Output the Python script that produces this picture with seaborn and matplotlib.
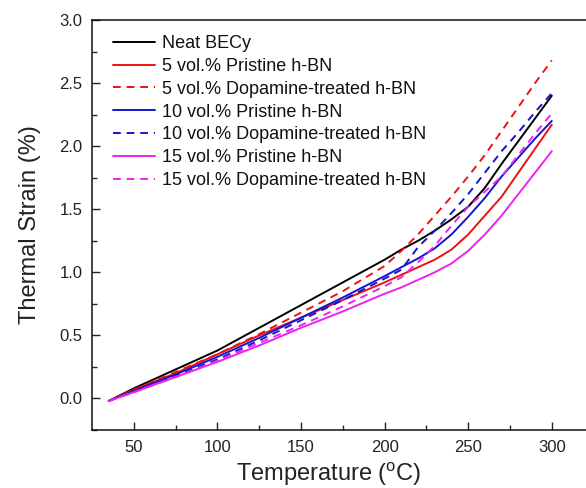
import numpy as np
import pandas as pd
import matplotlib
matplotlib.use("Agg")
import matplotlib.pyplot as plt
import seaborn as sns

temperature = [35, 50, 75, 100, 125, 150, 175, 200, 210, 220, 230, 240, 250, 260, 270, 280, 290, 300]

neat_becy   = [-0.02, 0.08, 0.23, 0.38, 0.56, 0.74, 0.92, 1.10, 1.18, 1.25, 1.33, 1.42, 1.52, 1.67, 1.86, 2.04, 2.22, 2.40]
pristine_5  = [-0.02, 0.07, 0.20, 0.35, 0.50, 0.64, 0.78, 0.92, 0.98, 1.04, 1.10, 1.18, 1.30, 1.45, 1.60, 1.79, 1.98, 2.17]
dopamine_5  = [-0.02, 0.07, 0.21, 0.35, 0.51, 0.68, 0.85, 1.05, 1.17, 1.30, 1.45, 1.60, 1.76, 1.93, 2.12, 2.31, 2.50, 2.68]
pristine_10 = [-0.02, 0.06, 0.19, 0.33, 0.48, 0.64, 0.80, 0.97, 1.04, 1.11, 1.19, 1.30, 1.44, 1.59, 1.76, 1.91, 2.06, 2.20]
dopamine_10 = [-0.02, 0.06, 0.18, 0.31, 0.46, 0.62, 0.78, 0.95, 1.02, 1.20, 1.33, 1.47, 1.62, 1.79, 1.96, 2.11, 2.27, 2.42]
pristine_15 = [-0.02, 0.05, 0.17, 0.29, 0.42, 0.56, 0.69, 0.83, 0.88, 0.94, 1.00, 1.07, 1.17, 1.30, 1.45, 1.62, 1.79, 1.96]
dopamine_15 = [-0.02, 0.05, 0.17, 0.30, 0.44, 0.58, 0.73, 0.89, 0.96, 1.08, 1.21, 1.37, 1.52, 1.64, 1.76, 1.93, 2.10, 2.26]

labels = ["Neat BECy",
          "5 vol.% Pristine h-BN",
          "5 vol.% Dopamine-treated h-BN",
          "10 vol.% Pristine h-BN",
          "10 vol.% Dopamine-treated h-BN",
          "15 vol.% Pristine h-BN",
          "15 vol.% Dopamine-treated h-BN"]
series = [neat_becy, pristine_5, dopamine_5, pristine_10, dopamine_10, pristine_15, dopamine_15]
colors = ["#000000", "#ee1111", "#ee1111", "#1515d0", "#1515d0", "#ee22ee", "#ee22ee"]
styles = ["-", "-", "--", "-", "--", "-", "--"]

x_ticks = [50, 100, 150, 200, 250, 300]
y_ticks = [0.0, 0.5, 1.0, 1.5, 2.0, 2.5, 3.0]

sns.set_theme(style="ticks")
plt.rcParams["font.family"] = ["Liberation Sans", "DejaVu Sans"]
plt.rcParams["mathtext.fontset"] = "custom"
plt.rcParams["mathtext.rm"] = "Liberation Sans"
plt.rcParams["mathtext.it"] = "Liberation Sans:italic"

fig = plt.figure(figsize=(5.86, 4.88), dpi=100)
ax = fig.add_axes([92 / 586, 58 / 488, 501.6 / 586, 410 / 488])

for lab, ys, c, ls in zip(labels, series, colors, styles):
    df = pd.DataFrame({"T": temperature, "S": ys})
    sns.lineplot(data=df, x="T", y="S", ax=ax, color=c, linewidth=1.4,
                 label=lab, estimator=None, sort=False)
    ax.lines[-1].set_linestyle(ls)
    if ls == "--":
        ax.lines[-1].set_dashes((4, 3))

ax.set_xlim(25, 325)
ax.set_ylim(-0.25, 3.0)
ax.set_xticks(x_ticks)
ax.set_yticks(y_ticks)
ax.set_xticklabels([str(v) for v in x_ticks])
ax.set_yticklabels([f"{v:.1f}" for v in y_ticks])
ax.set_xticks([75, 125, 175, 225, 275], minor=True)
ax.set_yticks([-0.25, 0.25, 0.75, 1.25, 1.75, 2.25, 2.75], minor=True)
ax.tick_params(which="major", direction="in", length=6, width=1.0, labelsize=12,
               colors="#222222", pad=7)
ax.tick_params(which="minor", direction="in", length=3.5, width=1.0)
for sp in ax.spines.values():
    sp.set_linewidth(1.1)
    sp.set_color("#111111")

ax.set_xlabel("Temperature ($^{\\mathrm{o}}$C)", fontsize=17, color="#222222")
ax.set_ylabel("Thermal Strain (%)", fontsize=17, color="#222222")
ax.xaxis.set_label_coords(0.4725, -0.074)
ax.yaxis.set_label_coords(-0.102, 0.5)

handles, labs = ax.get_legend_handles_labels()
leg = ax.legend(handles, labs, loc="upper left", bbox_to_anchor=(0.042, 0.963),
                frameon=False, fontsize=13, borderpad=0, borderaxespad=0,
                handlelength=2.33, handletextpad=0.37, labelspacing=0.32)
for t in leg.get_texts():
    t.set_color("#111111")

fig.savefig("out.png", dpi=100)
